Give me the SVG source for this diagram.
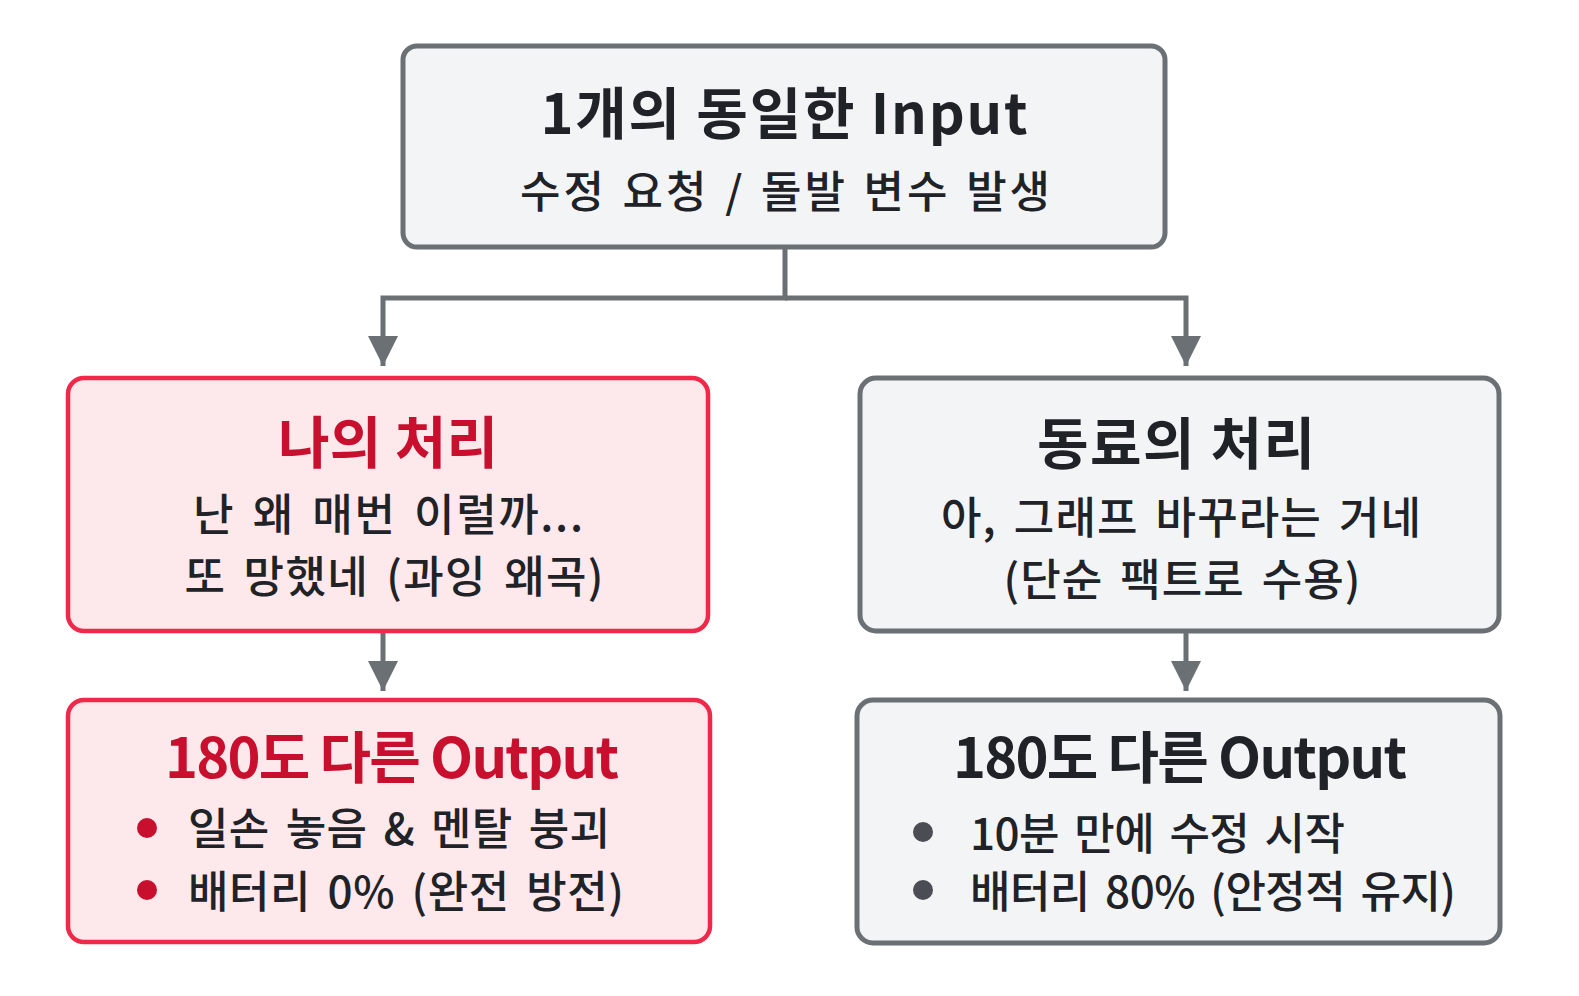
<svg xmlns="http://www.w3.org/2000/svg" width="1579" height="996" viewBox="0 0 1579 996">
<defs>
<style>
.t{font-family:"Noto Sans CJK KR","Noto Sans",sans-serif;}
.h{font-size:56px;font-weight:700;text-anchor:middle;}
.s{font-size:44px;font-weight:500;fill:#1f2328;word-spacing:6px;}
.c{text-anchor:middle;}
.red{fill:#c8102e;}
.dark{fill:#1f2328;}
.gbox{fill:#f3f4f6;stroke:#6b7075;stroke-width:5;}
.rbox{fill:#fde8ec;stroke:#f0284a;stroke-width:4.5;}
.con{fill:none;stroke:#6b7075;stroke-width:5;}
</style>
<marker id="arr" viewBox="0 0 10 10" refX="10" refY="5" markerUnits="userSpaceOnUse" markerWidth="30" markerHeight="30" orient="auto">
<path d="M0,0 L10,5 L0,10 z" fill="#6b7075"/>
</marker>
</defs>
<rect width="1579" height="996" fill="#ffffff"/>
<g id="connectors">
<path class="con" d="M785,247 V298 H383 V366" marker-end="url(#arr)"/>
<path class="con" d="M785,298 H1186 V366" marker-end="url(#arr)"/>
<path class="con" d="M383,631 V691" marker-end="url(#arr)"/>
<path class="con" d="M1186,631 V691" marker-end="url(#arr)"/>
</g>
<g id="input">
<rect class="gbox" x="403" y="46" width="762" height="201" rx="14"/>
<text class="t h dark" x="784" y="134" font-size="59" textLength="487" lengthAdjust="spacing">1개의 동일한 Input</text>
<text class="t s c" x="785" y="208" font-size="48" style="word-spacing:3px" textLength="530" lengthAdjust="spacing">수정 요청 / 돌발 변수 발생</text>
</g>
<g id="my-process">
<rect class="rbox" x="68" y="378" width="640" height="253" rx="16"/>
<text class="t h red" x="388" y="463" font-size="58" textLength="220" lengthAdjust="spacing">나의 처리</text>
<text class="t s c" x="388" y="531" textLength="390" lengthAdjust="spacing">난 왜 매번 이럴까...</text>
<text class="t s c" x="394" y="593" textLength="419" lengthAdjust="spacing">또 망했네 (과잉 왜곡)</text>
</g>
<g id="colleague-process">
<rect class="gbox" x="860" y="378" width="639" height="253" rx="16"/>
<text class="t h dark" x="1176" y="464" font-size="58" textLength="278" lengthAdjust="spacing">동료의 처리</text>
<text class="t s c" x="1181" y="534" textLength="480" lengthAdjust="spacing">아, 그래프 바꾸라는 거네</text>
<text class="t s c" x="1182" y="596" textLength="357" lengthAdjust="spacing">(단순 팩트로 수용)</text>
</g>
<g id="my-output">
<rect class="rbox" x="68" y="700" width="642" height="242" rx="16"/>
<text class="t h red" x="392" y="778" textLength="454" lengthAdjust="spacing">180도 다른 Output</text>
<circle cx="147" cy="828" r="10" fill="#c8102e"/>
<circle cx="147" cy="890" r="10" fill="#c8102e"/>
<text class="t s" x="188" y="845" textLength="422" lengthAdjust="spacing">일손 놓음 &amp; 멘탈 붕괴</text>
<text class="t s" x="188" y="908" textLength="436" lengthAdjust="spacing">배터리 0% (완전 방전)</text>
</g>
<g id="colleague-output">
<rect class="gbox" x="857" y="700" width="643" height="243" rx="16"/>
<text class="t h dark" x="1180" y="778" textLength="454" lengthAdjust="spacing">180도 다른 Output</text>
<circle cx="923" cy="832" r="10" fill="#4a4e54"/>
<circle cx="923" cy="890" r="10" fill="#4a4e54"/>
<text class="t s" x="970" y="850" textLength="375" lengthAdjust="spacing">10분 만에 수정 시작</text>
<text class="t s" x="970" y="908" textLength="486" lengthAdjust="spacing">배터리 80% (안정적 유지)</text>
</g>
</svg>
